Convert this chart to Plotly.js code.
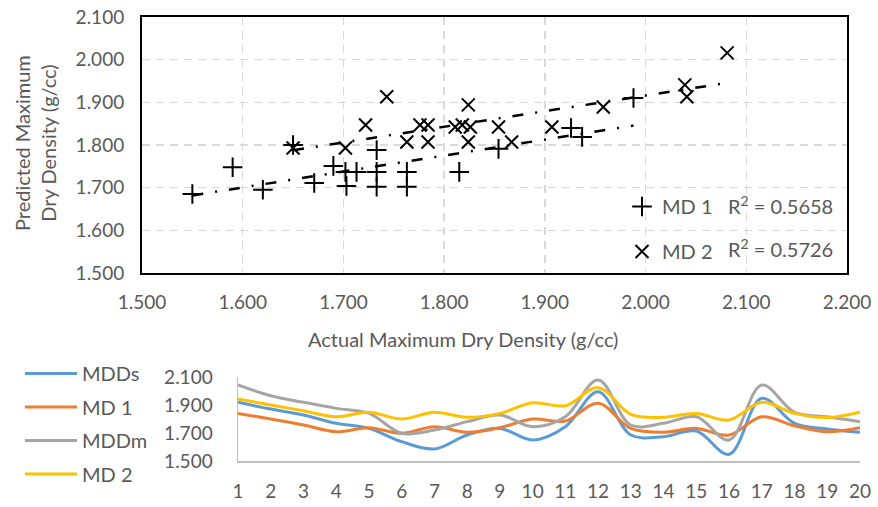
<!DOCTYPE html>
<html>
<head>
<meta charset="utf-8">
<script src="https://cdn.plot.ly/plotly-3.0.1.min.js"></script>
<style>html,body{margin:0;padding:0;background:#fff}#chart{width:878px;height:507px}</style>
</head>
<body>
<div id="chart"></div>
<script>
// ---- Scatter: Actual vs Predicted MDD ----
const md1Actual    = [1.550,1.590,1.620,1.650,1.671,1.690,1.702,1.703,1.713,1.733,1.733,1.733,1.763,1.763,1.815,1.854,1.926,1.937,1.988];
const md1Predicted = [1.685,1.748,1.695,1.800,1.711,1.751,1.737,1.704,1.737,1.788,1.737,1.702,1.737,1.702,1.737,1.791,1.840,1.819,1.910];
const md2Actual    = [1.650,1.702,1.722,1.743,1.763,1.776,1.784,1.784,1.811,1.818,1.824,1.826,1.824,1.854,1.867,1.907,1.958,2.039,2.041,2.081];
const md2Predicted = [1.793,1.793,1.847,1.913,1.807,1.847,1.847,1.807,1.842,1.847,1.894,1.842,1.807,1.842,1.807,1.842,1.889,1.941,1.913,2.016];
const r2Labels = ['R<sup>2</sup> = 0.5658', 'R<sup>2</sup> = 0.5726'];
const scatterXTicks = [1.5,1.6,1.7,1.8,1.9,2.0,2.1,2.2];
const scatterYTicks = [1.5,1.6,1.7,1.8,1.9,2.0,2.1];

// ---- Line chart: samples 1..20 ----
const samples = [1,2,3,4,5,6,7,8,9,10,11,12,13,14,15,16,17,18,19,20];
const mdds = [1.919,1.871,1.829,1.769,1.733,1.638,1.586,1.686,1.733,1.650,1.745,1.995,1.686,1.674,1.714,1.548,1.948,1.769,1.729,1.705];
const md1  = [1.840,1.800,1.757,1.709,1.738,1.698,1.745,1.705,1.738,1.800,1.786,1.912,1.733,1.705,1.733,1.686,1.816,1.752,1.709,1.738];
const mddm = [2.043,1.966,1.919,1.876,1.840,1.698,1.721,1.781,1.829,1.745,1.816,2.079,1.757,1.769,1.816,1.650,2.043,1.848,1.816,1.781];
const md2  = [1.943,1.900,1.859,1.816,1.848,1.800,1.848,1.812,1.840,1.916,1.895,2.024,1.833,1.812,1.840,1.793,1.919,1.840,1.810,1.848];
const lineYTicks = [1.5,1.7,1.9,2.1];

function fit(xs, ys){
  const n = xs.length;
  let sx=0, sy=0, sxx=0, sxy=0;
  for(let i=0;i<n;i++){ sx+=xs[i]; sy+=ys[i]; sxx+=xs[i]*xs[i]; sxy+=xs[i]*ys[i]; }
  const b = (n*sxy - sx*sy)/(n*sxx - sx*sx);
  const a = (sy - b*sx)/n;
  const x0 = Math.min(...xs), x1 = Math.max(...xs);
  return {x:[x0,x1], y:[a+b*x0, a+b*x1]};
}
const f1 = fit(md1Actual, md1Predicted);
const f2 = fit(md2Actual, md2Predicted);

const FONT = 'Lato, "Open Sans", sans-serif';
const TXT = '#595959';
const TICK = 19, LBL = 20;
const trendDash = '11px,12px,2px,12px';

const traces = [
  {x: f1.x, y: f1.y, type:'scatter', mode:'lines', xaxis:'x', yaxis:'y', showlegend:false,
   line:{color:'#000', width:2.5, dash:trendDash}, hoverinfo:'skip'},
  {x: f2.x, y: f2.y, type:'scatter', mode:'lines', xaxis:'x', yaxis:'y', showlegend:false,
   line:{color:'#000', width:2.5, dash:trendDash}, hoverinfo:'skip'},
  {x: md1Actual, y: md1Predicted, name:'MD 1', type:'scatter', mode:'markers', xaxis:'x', yaxis:'y',
   legend:'legend', legendgroup:'a',
   marker:{symbol:'cross-thin', size:14, color:'#000', line:{color:'#000', width:2}}},
  {x: md2Actual, y: md2Predicted, name:'MD 2', type:'scatter', mode:'markers', xaxis:'x', yaxis:'y',
   legend:'legend', legendgroup:'b',
   marker:{symbol:'x-thin', size:13, color:'#000', line:{color:'#000', width:2}}},

  {x: samples, y: mdds, name:'MDDs', type:'scatter', mode:'lines', xaxis:'x2', yaxis:'y2',
   legend:'legend2', legendgroup:'g1', line:{color:'#5b9bd5', width:3, shape:'spline', smoothing:1}},
  {x: samples, y: md1, name:'MD 1', type:'scatter', mode:'lines', xaxis:'x2', yaxis:'y2',
   legend:'legend2', legendgroup:'g2', line:{color:'#ed7d31', width:3, shape:'spline', smoothing:1}},
  {x: samples, y: mddm, name:'MDDm', type:'scatter', mode:'lines', xaxis:'x2', yaxis:'y2',
   legend:'legend2', legendgroup:'g3', line:{color:'#a5a5a5', width:3, shape:'spline', smoothing:1}},
  {x: samples, y: md2, name:'MD 2', type:'scatter', mode:'lines', xaxis:'x2', yaxis:'y2',
   legend:'legend2', legendgroup:'g4', line:{color:'#ffc000', width:3, shape:'spline', smoothing:1}}
];

const W = 878, H = 507;
const layout = {
  width: W, height: H,
  margin:{l:0, r:0, t:0, b:0},
  paper_bgcolor:'#fff', plot_bgcolor:'#fff',
  font:{family:FONT, size:TICK, color:TXT},
  xaxis:{domain:[142/W, 847/W], range:[1.5,2.2], anchor:'y',
    tickvals:scatterXTicks, tickformat:'.3f', ticks:'', ticklabelstandoff:11,
    showgrid:true, gridcolor:'#d9d9d9', gridwidth:1.5, griddash:'8px,6px',
    showline:true, mirror:true, linecolor:'#000', linewidth:2, zeroline:false,
    tickfont:{size:TICK, color:TXT}},
  yaxis:{domain:[(H-273)/H, (H-17)/H], range:[1.5,2.1], anchor:'x',
    tickvals:scatterYTicks, tickformat:'.3f', ticks:'', ticklabelstandoff:12,
    showgrid:true, gridcolor:'#d9d9d9', gridwidth:1.5, griddash:'8px,6px',
    showline:true, mirror:true, linecolor:'#000', linewidth:2, zeroline:false,
    tickfont:{size:TICK, color:TXT}},
  xaxis2:{domain:[238/W, 860/W], range:[1,20], anchor:'y2',
    tickvals:samples, ticktext:samples.map(String), ticks:'', ticklabelstandoff:13,
    showgrid:false, showline:true, linecolor:'#bfbfbf', linewidth:1.5, zeroline:false,
    tickfont:{size:TICK, color:TXT}},
  yaxis2:{domain:[(H-461)/H, (H-377)/H], range:[1.5,2.1], anchor:'x2',
    tickvals:lineYTicks, tickformat:'.3f', ticks:'', ticklabelstandoff:20,
    showgrid:false, showline:true, linecolor:'#bfbfbf', linewidth:1.5, zeroline:false,
    tickfont:{size:TICK, color:TXT}},
  legend:{x:622/W, xanchor:'left', y:(H-187)/H, yanchor:'top', bgcolor:'rgba(0,0,0,0)',
    borderwidth:0, tracegroupgap:16, traceorder:'grouped', font:{size:LBL, color:TXT}},
  legend2:{x:20/W, xanchor:'left', y:(H-354)/H, yanchor:'top', bgcolor:'rgba(0,0,0,0)',
    borderwidth:0, tracegroupgap:4.5, traceorder:'grouped', itemwidth:52, font:{size:LBL, color:TXT}},
  annotations:[
    {xref:'paper', yref:'paper', x:726/W, y:(H-205)/H, xanchor:'left', yanchor:'middle',
     text:r2Labels[0], showarrow:false, font:{size:LBL, color:TXT}},
    {xref:'paper', yref:'paper', x:726/W, y:(H-248)/H, xanchor:'left', yanchor:'middle',
     text:r2Labels[1], showarrow:false, font:{size:LBL, color:TXT}},
    {xref:'paper', yref:'paper', x:463/W, y:(H-339)/H, xanchor:'center', yanchor:'middle',
     text:'Actual Maximum Dry Density (g/cc)', showarrow:false, font:{size:LBL, color:TXT}},
    {xref:'paper', yref:'paper', x:35/W, y:(H-143)/H, xanchor:'center', yanchor:'middle',
     text:'Predicted Maximum<br>Dry Density (g/cc)', textangle:-90, showarrow:false, font:{size:LBL, color:TXT}}
  ]
};

Plotly.newPlot('chart', traces, layout, {displayModeBar:false, staticPlot:true});
</script>
</body>
</html>
